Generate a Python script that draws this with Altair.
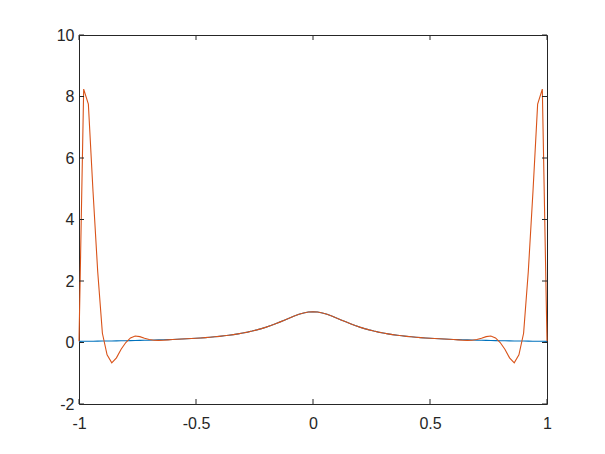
import altair as alt
import pandas as pd

# sample positions (step 0.02 from -1 to 1)
x_values = [round(-1 + 0.02 * i, 2) for i in range(101)]

# blue series: the smooth bell curve
blue_values = [
    0.038, 0.04, 0.042, 0.043, 0.045, 0.047, 0.049, 0.051, 0.054, 0.056,
    0.059, 0.062, 0.065, 0.068, 0.072, 0.075, 0.08, 0.084, 0.089, 0.094,
    0.10, 0.106, 0.113, 0.121, 0.129, 0.138, 0.148, 0.159, 0.171, 0.185,
    0.20, 0.217, 0.236, 0.257, 0.281, 0.308, 0.338, 0.372, 0.41, 0.452,
    0.50, 0.552, 0.61, 0.671, 0.735, 0.80, 0.862, 0.917, 0.962, 0.99,
    1.0,
    0.99, 0.962, 0.917, 0.862, 0.80, 0.735, 0.671, 0.61, 0.552, 0.50,
    0.452, 0.41, 0.372, 0.338, 0.308, 0.281, 0.257, 0.236, 0.217, 0.20,
    0.185, 0.171, 0.159, 0.148, 0.138, 0.129, 0.121, 0.113, 0.106, 0.10,
    0.094, 0.089, 0.084, 0.08, 0.075, 0.072, 0.068, 0.065, 0.062, 0.059,
    0.056, 0.054, 0.051, 0.049, 0.047, 0.045, 0.043, 0.042, 0.04, 0.038,
]

# orange series: oscillating interpolant
orange_left = [0.04, 8.24, 7.75, 4.9, 2.3, 0.3, -0.4, -0.66, -0.5, -0.22,
               0.0, 0.15, 0.21, 0.19, 0.14, 0.10, 0.075, 0.068, 0.072, 0.085, 0.10]
orange_middle = [
    0.106, 0.113, 0.121, 0.129, 0.138, 0.148, 0.159, 0.171, 0.185, 0.20,
    0.217, 0.236, 0.257, 0.281, 0.308, 0.338, 0.372, 0.41, 0.452, 0.50,
    0.552, 0.61, 0.671, 0.735, 0.80, 0.862, 0.917, 0.962, 0.99,
    1.0,
    0.99, 0.962, 0.917, 0.862, 0.80, 0.735, 0.671, 0.61, 0.552, 0.50,
    0.452, 0.41, 0.372, 0.338, 0.308, 0.281, 0.257, 0.236, 0.217, 0.20,
    0.185, 0.171, 0.159, 0.148, 0.138, 0.129, 0.121, 0.113, 0.106,
]
orange_right = [0.10, 0.085, 0.072, 0.068, 0.075, 0.10, 0.14, 0.19, 0.21, 0.15,
                0.0, -0.22, -0.5, -0.66, -0.4, 0.3, 2.3, 4.9, 7.75, 8.24, 0.04]
orange_values = orange_left + orange_middle + orange_right

x_ticks = [-1, -0.5, 0, 0.5, 1]
y_ticks = [-2, 0, 2, 4, 6, 8, 10]

W, H = 468, 369
AX = "#262626"
FONT = "Liberation Sans"
FS = 16

df = pd.DataFrame({"x": x_values, "f": blue_values, "p": orange_values})
xt = pd.DataFrame({"v": x_ticks})
yt = pd.DataFrame({"v": y_ticks})

xscale = alt.Scale(domain=[-1, 1], nice=False, zero=False)
yscale = alt.Scale(domain=[-2, 10], nice=False, zero=False)

xaxis = alt.Axis(values=x_ticks, labelExpr="datum.value + ''", ticks=False,
                 domain=False, grid=False, title=None, labelFont=FONT,
                 labelFontSize=FS, labelColor=AX, labelPadding=11,
                 labelFlush=False, labelOverlap=False)
yaxis = alt.Axis(values=y_ticks, labelExpr="datum.value + ''", ticks=False,
                 domain=False, grid=False, title=None, labelFont=FONT,
                 labelFontSize=FS, labelColor=AX, labelPadding=5,
                 labelFlush=False, labelOverlap=False)

base = alt.Chart(df)
blue = base.mark_line(color="#0072BD", strokeWidth=1.1).encode(
    x=alt.X("x:Q", scale=xscale, axis=xaxis),
    y=alt.Y("f:Q", scale=yscale, axis=yaxis),
)
orange = base.mark_line(color="#D95319", strokeWidth=1.1).encode(
    x=alt.X("x:Q", scale=xscale, axis=xaxis),
    y=alt.Y("p:Q", scale=yscale, axis=yaxis),
)

tick_style = dict(color=AX, strokeWidth=1)
yt_left = alt.Chart(yt).mark_rule(**tick_style).encode(
    y=alt.Y("v:Q", scale=yscale, axis=yaxis), x=alt.value(0), x2=alt.value(5))
yt_right = alt.Chart(yt).mark_rule(**tick_style).encode(
    y=alt.Y("v:Q", scale=yscale, axis=yaxis), x=alt.value(W - 5), x2=alt.value(W))
xt_bottom = alt.Chart(xt).mark_rule(**tick_style).encode(
    x=alt.X("v:Q", scale=xscale, axis=xaxis), y=alt.value(H - 5), y2=alt.value(H))
xt_top = alt.Chart(xt).mark_rule(**tick_style).encode(
    x=alt.X("v:Q", scale=xscale, axis=xaxis), y=alt.value(0), y2=alt.value(5))

chart = alt.layer(blue, orange, yt_left, yt_right, xt_bottom, xt_top).properties(
    width=W, height=H,
    autosize=alt.AutoSizeParams(type="none"),
    padding={"left": 71, "top": 27, "right": 50, "bottom": 42},
    background="white",
).configure_view(stroke=AX, strokeWidth=1)

chart.save("out.html", embed_options={"renderer": "svg", "actions": False})
